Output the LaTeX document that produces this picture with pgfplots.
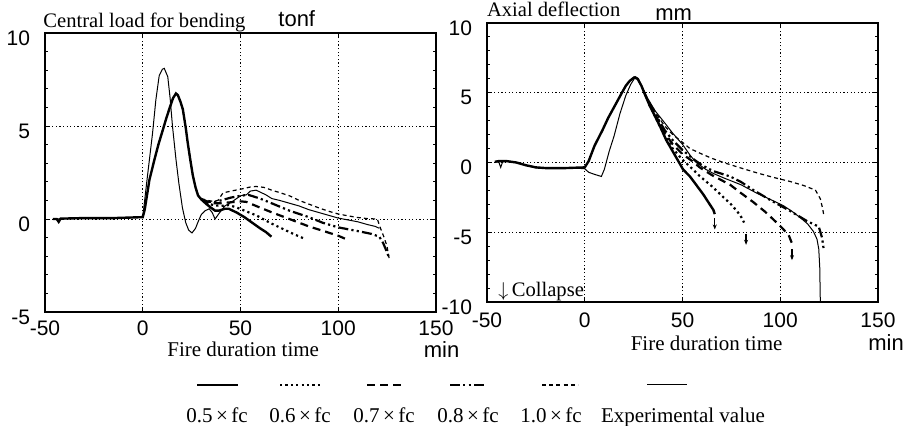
\documentclass[border=0pt]{standalone}
\usepackage{pgfplots}
\pgfplotsset{compat=1.18}
\usepackage{fontspec}
\setmainfont{Liberation Serif}
\newfontfamily\sansf{Liberation Sans}
\usetikzlibrary{arrows.meta}

\tikzset{
  s05/.style={black, line width=1.2pt},
  s06/.style={black, line width=1.1pt, dash pattern=on 1.1pt off 1.6pt},
  s07/.style={black, line width=1.1pt, dash pattern=on 4pt off 2.5pt},
  s08/.style={black, line width=1.1pt, dash pattern=on 5pt off 1.6pt on 1.1pt off 1.6pt on 1.1pt off 1.6pt},
  s10/.style={black, line width=0.6pt, dash pattern=on 2pt off 1.6pt},
  sexp/.style={black, line width=0.5pt},
}

\pgfplotsset{
  myaxis/.style={
    scale only axis, width=195.5pt, height=139.5pt,
    xmin=-50, xmax=150,
    xtick={-50,0,50,100,150}, xticklabels={-50,0,50,100,150},
    axis line style={line width=0.6pt},
    tick align=inside, major tick length=2.5pt, minor tick length=1.5pt,
    tick style={black, line width=0.5pt},
    grid=major,
    major grid style={black, line width=0.5pt, dash pattern=on 0.6pt off 1.2pt},
    tick label style={font=\sansf\fontsize{10.5}{12}\selectfont},
    yticklabel style={anchor=east, inner sep=0pt, xshift=-7.3pt, yshift=-2.5pt},
    xticklabel style={anchor=north, inner sep=0pt},
    clip=false,
  }
}

\begin{document}
\begin{tikzpicture}
\path[use as bounding box] (0,0) rectangle (458pt,212.5pt);

% ---------------- Left: central load ----------------
\begin{axis}[myaxis, at={(22.5pt,56.5pt)}, anchor=south west,
  xticklabel style={yshift=-4pt},
  ymin=-5, ymax=10, ytick={-5,0,5,10}, yticklabels={-5,0,5,10},
  minor y tick num=4]
\addplot[sexp] coordinates {(-46,0)(-30,0.05)(-15,0.05)(0,0.1)(2.4,2.3)(5,4.6)(6.7,6.4)(8.4,7.7)(10,8.05)(11,8.1)(12.8,7.65)(14,6.5)(15.2,5.0)(17,3.2)(18.5,1.9)(20.3,0.6)(22,-0.2)(23.5,-0.6)(25.2,-0.75)(27,-0.5)(28.5,-0.1)(30,0.25)(32,0.45)(34,0.55)(35.5,0.35)(37,0.0)(39,0.3)(42,0.7)(46,0.95)(50,1.25)(53,1.3)(55,1.5)(58,1.55)(60,1.45)(63,1.3)(66,1.1)(70,1.0)(75,0.85)(80,0.7)(85,0.5)(90,0.35)(95,0.2)(100,0.05)(105,-0.05)(110,-0.15)(115,-0.3)(119,-0.4)(121,-0.5)};
\addplot[s05] coordinates {(-46,0)(-44,0)(-43,-0.15)(-42,0.02)(-30,0.05)(-15,0.05)(0,0.1)(1,0.5)(3.4,2.1)(6,3.2)(8,4.0)(10.3,4.8)(12,5.4)(13.7,5.95)(15.5,6.5)(17,6.75)(18,6.65)(19.3,6.3)(20.5,5.9)(22,4.9)(23,4.1)(24.3,3.2)(25.6,2.35)(27,1.7)(28.3,1.26)(30,1.05)(32.6,0.8)(35,0.6)(37,0.45)(39,0.45)(42,0.55)(44,0.55)(48,0.35)(52,0.1)(56,-0.2)(60,-0.5)(63,-0.7)(65.8,-0.95)};
\addplot[s06] coordinates {(30,1.05)(33,0.85)(36,0.75)(40,0.7)(44,0.75)(48,0.62)(52,0.45)(58,0.2)(65,-0.2)(72,-0.55)(77,-0.8)(82.5,-1.05)};
\addplot[s07] coordinates {(30,1.05)(33,0.9)(36,0.85)(40,0.85)(45,0.9)(50,0.95)(53,0.92)(58,0.7)(65,0.4)(75,0.0)(85,-0.4)(92,-0.63)(100,-0.9)(105.5,-1.15)};
\addplot[s08] coordinates {(30,1.05)(33,0.95)(36,0.9)(40,1.0)(45,1.15)(50,1.25)(54,1.3)(60,1.1)(67,0.8)(75,0.45)(85,0.1)(92,-0.2)(100,-0.45)(110,-0.65)(117,-0.8)(121,-0.95)(123,-1.3)(125,-1.8)(126,-2.1)};
\addplot[s10] coordinates {(30,1.1)(33,1.0)(36,0.95)(38.5,1.0)(41,1.4)(45,1.5)(50,1.6)(55,1.72)(58,1.75)(62,1.7)(66,1.55)(70,1.42)(75,1.25)(80,1.0)(85,0.8)(90,0.6)(95,0.42)(100,0.27)(105,0.17)(110,0.08)(115,0.02)(120,0.0)(121.6,-0.5)(123.5,-1.0)(125,-1.5)(126,-2.1)};
\end{axis}

% ---------------- Right: axial deflection ----------------
\begin{axis}[myaxis, at={(243.5pt,61.5pt)}, anchor=south west,
  xticklabel style={yshift=-5pt},
  ymin=-10, ymax=10, ytick={-10,-5,0,5,10}, yticklabels={-10,-5,0,5,10},
  minor y tick num=4]
\addplot[sexp] coordinates {(-46,0.05)(-44,0.05)(-43,-0.35)(-42,0.05)(-40,0.1)(-35,0)(-30,-0.2)(-25,-0.38)(-15,-0.4)(-5,-0.4)(0,-0.45)(2,-0.7)(5,-0.85)(8.5,-1.0)(10,-0.5)(12.5,0.8)(15,1.9)(18,3.5)(21,4.8)(23.5,5.6)(26,6.15)(27.5,6.0)(29,5.5)(30.5,5.1)(32.2,4.6)(36,3.7)(40,3.0)(45,2.1)(50,1.3)(54,0.5)(57,0.0)(62,-0.5)(66,-0.8)(71,-1.1)(80,-1.6)(88,-2.2)(95,-2.65)(101.7,-3.1)(106,-3.5)(110.3,-3.96)(114,-4.4)(117,-4.95)(118.8,-5.5)(119.7,-6.2)(120.2,-7.5)(120.5,-10)};
\addplot[s05] coordinates {(-46,0.05)(-44,0.1)(-40,0.1)(-35,0)(-30,-0.2)(-25,-0.35)(-20,-0.4)(-10,-0.4)(0,-0.35)(2,0.1)(5,1.2)(9,2.3)(12,3.2)(15.9,4.2)(19,5.0)(21,5.5)(23,5.85)(25.3,6.1)(27,6.0)(29,5.5)(31,4.8)(33,4.15)(36,3.3)(38.5,2.6)(41.7,1.6)(45,0.8)(50.3,-0.5)(53.8,-1.0)(57,-1.6)(60.7,-2.3)(63,-2.8)(65.8,-3.4)(66.5,-3.7)};
\addplot[s06] coordinates {(33,4.15)(35,3.6)(38,2.7)(41,1.9)(45,1.0)(50,0.2)(55,-0.45)(59,-1.0)(65,-1.7)(71,-2.5)(74.5,-2.95)(77.8,-3.47)(80,-3.9)(81.5,-4.3)};
\addplot[s07] coordinates {(33,4.2)(35,3.7)(38,2.9)(41,2.1)(45,1.3)(50,0.6)(55,0.1)(59,-0.37)(65,-0.9)(74.4,-1.6)(80,-2.2)(86.3,-2.85)(92,-3.5)(96.6,-4.1)(101,-4.7)(104.3,-5.2)(106,-5.8)};
\addplot[s08] coordinates {(33,4.25)(35,3.8)(38,3.0)(41,2.3)(45,1.6)(50,0.9)(55,0.3)(60,-0.2)(65.8,-0.62)(74.4,-1.0)(80,-1.4)(86.3,-1.98)(95,-2.7)(105,-3.47)(113.7,-4.2)(119.7,-4.6)(121.4,-5.4)(122.2,-6.2)};
\addplot[s10] coordinates {(33,4.3)(35,3.9)(38,3.2)(41,2.6)(45,2.0)(50,1.45)(53.8,1.0)(60,0.6)(65,0.3)(70.9,0.0)(80,-0.4)(88,-0.74)(96,-1.05)(105,-1.36)(112,-1.65)(118,-1.98)(120.5,-2.6)(121.5,-3.2)(122.2,-3.7)};
% collapse arrows
\addplot[black, line width=0.6pt, -{Stealth[length=2.5pt,width=2pt]}] coordinates {(66.5,-4.0)(66.5,-4.8)};
\addplot[black, line width=0.6pt, -{Stealth[length=2.5pt,width=2pt]}] coordinates {(82.5,-5.1)(82.5,-5.9)};
\addplot[black, line width=0.6pt, -{Stealth[length=2.5pt,width=2pt]}] coordinates {(106,-6.2)(106,-7.0)};
\end{axis}

% ---------------- Texts ----------------
\node[anchor=base west, inner sep=0pt, font=\fontsize{10.3}{12}\selectfont] at (21.5pt,198.9pt) {Central load for bending};
\node[anchor=base west, inner sep=0pt, font=\sansf\fontsize{11}{12}\selectfont] at (139pt,199.2pt) {tonf};
\node[anchor=base west, inner sep=0pt, font=\fontsize{10.3}{12}\selectfont] at (243.3pt,204.2pt) {Axial deflection};
\node[anchor=base west, inner sep=0pt, font=\sansf\fontsize{11}{12}\selectfont] at (327.5pt,202.2pt) {mm};
\node[anchor=base, inner sep=0pt, font=\fontsize{10.5}{12}\selectfont] at (121.6pt,34.3pt) {Fire duration time};
\node[anchor=base west, inner sep=0pt, font=\sansf\fontsize{11}{12}\selectfont] at (211.7pt,34pt) {min};
\node[anchor=base, inner sep=0pt, font=\fontsize{10.5}{12}\selectfont] at (353.3pt,37.3pt) {Fire duration time};
\node[anchor=base west, inner sep=0pt, font=\sansf\fontsize{11}{12}\selectfont] at (434pt,37.5pt) {min};
\node[anchor=base west, inner sep=0pt, font=\fontsize{10.3}{12}\selectfont] at (249pt,64.5pt) {$\downarrow$\,Collapse};

% ---------------- Legend ----------------
\draw[s05] (98.5pt,20pt) -- (119pt,20pt);
\draw[s06] (140pt,20pt) -- (160pt,20pt);
\draw[s07] (183.5pt,20pt) -- (201.5pt,20pt);
\draw[s08] (225pt,20pt) -- (243.5pt,20pt);
\draw[s10] (271pt,20pt) -- (289pt,20pt);
\draw[sexp] (323.5pt,20.5pt) -- (343.5pt,20.5pt);
\begin{scope}[every node/.style={anchor=base, inner sep=0pt, font=\fontsize{10.5}{12}\selectfont}]
\node at (108.5pt,1.5pt) {0.5\,×\,fc};
\node at (150pt,1.5pt) {0.6\,×\,fc};
\node at (192pt,1.5pt) {0.7\,×\,fc};
\node at (234pt,1.5pt) {0.8\,×\,fc};
\node at (275.5pt,1.5pt) {1.0\,×\,fc};
\node at (341.5pt,1.5pt) {Experimental value};
\end{scope}
\end{tikzpicture}
\end{document}
